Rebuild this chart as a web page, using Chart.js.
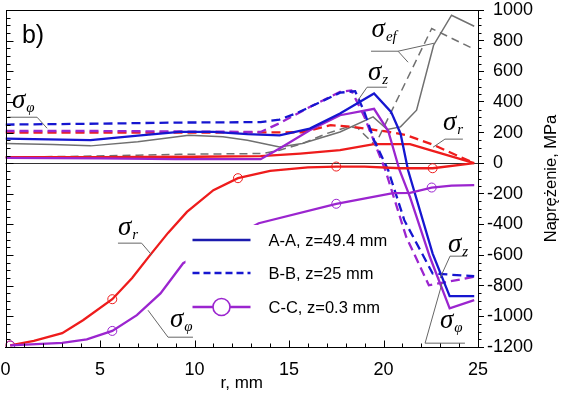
<!DOCTYPE html>
<html>
<head>
<meta charset="utf-8">
<script src="https://cdn.jsdelivr.net/npm/chart.js@4.4.1/dist/chart.umd.min.js"></script>
<style>
  html, body { margin: 0; padding: 0; background: #fff; }
  canvas { display: block; }
</style>
</head>
<body>
<canvas id="stressChart" width="561" height="394"></canvas>
<script>
// radius r [mm] and stress [MPa]
// sigma_z
const rZA = [0, 4.5, 7, 9.2, 11, 12.8, 14.5, 16.1, 17.7, 19.5, 20.4, 20.9, 21.3, 22.6, 23.5, 24.8];
const sZA = [160, 150, 180, 205, 205, 190, 182, 226, 324, 455, 335, 194, -46, -590, -868, -868];
const rZB = [0, 5, 9, 13.5, 14.5, 15.4, 16.5, 17.7, 18.5, 19.0, 19.5, 20.25, 21.1, 22.6, 24.8];
const sZB = [252, 258, 265, 268, 285, 326, 390, 460, 470, 330, 150, -46, -372, -720, -738];
// sigma_phi
const rPA = [0, 5, 9, 13.5, 14.5, 16.1, 17.7, 19.5, 20.25, 20.85, 21.4, 22.45, 23.5, 24.8];
const sPA = [35, 32, 27, 26, 96, 215, 313, 355, 210, -46, -220, -611, -948, -894];
const rPB = [0, 5, 9, 13.5, 14.5, 16.1, 17.7, 18.3, 19.0, 19.6, 20.1, 21.2, 22.4, 24.8];
const sPB = [210, 210, 207, 204, 261, 367, 465, 475, 300, 110, -46, -481, -797, -742];
const rPC = [0.25, 3.0, 4.3, 5.65, 6.95, 8.2, 9.4, 13.4, 17.5, 20.5, 21.4, 22.55, 23.6, 24.8];
const sPC = [-1190, -1173, -1150, -1095, -992, -850, -653, -392, -265, -196, -194, -159, -146, -143];
// sigma_r
const rRA = [0, 5, 10, 13.5, 15.6, 17.7, 19.5, 21.4, 22.6, 24.8];
const sRA = [40, 40, 42, 46, 63, 85, 125, 124, 80, 0];
const rRB = [0, 5, 10, 15.7, 17.2, 18.4, 20.3, 21.2, 22.6, 24.8];
const sRB = [200, 200, 200, 202, 248, 237, 204, 183, 122, 0];
const rRC = [0.25, 1.5, 3.0, 4.1, 5.65, 6.7, 7.65, 8.6, 9.6, 11.0, 12.3, 14.0, 16.0, 17.5, 19.0, 20.9, 22.6, 24.8];
const sRC = [-1190, -1160, -1110, -1025, -888, -750, -600, -455, -318, -176, -98, -50, -28, -22, -22, -33, -33, 0];
// sigma_ef
const rEA = [0, 2.5, 4.5, 7, 9.7, 11.5, 12.8, 14.5, 15.7, 17.7, 19.45, 20.2, 20.9, 21.75, 22.65, 23.6, 24.8];
const sEA = [128, 122, 113, 140, 183, 172, 150, 105, 128, 204, 302, 220, 237, 346, 770, 966, 894];
const rEB = [0, 4, 7, 9.2, 13.6, 14.5, 15.7, 17, 18.2, 18.65, 19.55, 22.55, 24.8];
const sEB = [40, 45, 52, 58, 63, 85, 128, 194, 240, 228, 117, 879, 744];

// where the C-C curves carry a circle
const markRC = [0.25, 5.65, 12.3, 17.5, 22.6];
const markPC = [0.25, 5.65, 17.5, 22.55];

const legendRows = ['A-A, z=49.4 mm', 'B-B, z=25 mm', 'C-C, z=0.3 mm'];
const xTicks = [0, 5, 10, 15, 20, 25];

const RED = '#ee1c1c', BLUE = '#1616d0', PURPLE = '#9b25cf', GRAY = '#707070';
const SANS = '"Liberation Sans", Arial, sans-serif';
const SERIF = '"Liberation Serif", "Times New Roman", serif';

const pts = (r, s) => r.map((v, i) => ({ x: v, y: s[i] }));

function line(r, s, color, extra) {
  return Object.assign({
    data: pts(r, s),
    borderColor: color,
    borderWidth: 2.3,
    pointRadius: 0,
    tension: 0,
    fill: false
  }, extra || {});
}

function circles(color, marks) {
  return {
    pointRadius: ctx => (ctx.raw && marks.indexOf(ctx.raw.x) >= 0) ? 4.5 : 0,
    pointBorderColor: color,
    pointBackgroundColor: 'rgba(0,0,0,0)',
    pointBorderWidth: 1
  };
}

// sigma labels with leader lines, placed in data units
const notes = [
  { sub: 'φ', at: [0.34, 359], lead: [[0.13, 300], [1.67, 300], [2.2, 228]] },
  { sub: 'ef', at: [19.37, 822], lead: [[19.34, 731], [20.77, 731], [21.3, 659]], lead2: [[20.77, 731], [22.67, 783]] },
  { sub: 'z', at: [19.18, 542], lead: [[20.18, 496], [19.13, 496], [18.65, 411]] },
  { sub: 'r', at: [23.15, 215], lead: [[24.2, 157], [23.25, 157], [22.62, 104]] },
  { sub: 'r', at: [5.95, -470], lead: [[5.95, -522], [7.2, -522], [7.74, -600]] },
  { sub: 'φ', at: [8.7, -1070], lead: [[9.92, -1136], [8.6, -1136], [7.54, -960]] },
  { sub: 'z', at: [23.41, -581], lead: [[24.42, -607], [23.52, -607], [22.99, -751]] },
  { sub: 'φ', at: [22.99, -1077], lead: [[24.31, -1175], [22.2, -1175], [23.1, -783]] }
];

const decor = {
  id: 'decor',
  afterDraw(chart) {
    const { ctx, chartArea: a, scales: { x, y } } = chart;
    const X = v => x.getPixelForValue(v), Y = v => y.getPixelForValue(v);
    ctx.save();

    // legend
    const lx = a.left + 180, ly = a.top + 215;
    ctx.fillStyle = '#fff';
    ctx.fillRect(lx, ly, 207, 97);
    const rowY = [ly + 15, ly + 48, ly + 82];
    const styles = [
      { c: '#1b1bae', dash: [] },
      { c: BLUE, dash: [7, 4] },
      { c: PURPLE, dash: [], circ: true }
    ];
    styles.forEach((st, i) => {
      ctx.strokeStyle = st.c; ctx.lineWidth = 2.4; ctx.setLineDash(st.dash);
      ctx.beginPath(); ctx.moveTo(lx + 7, rowY[i]); ctx.lineTo(lx + 65, rowY[i]); ctx.stroke();
      ctx.setLineDash([]);
      if (st.circ) {
        ctx.lineWidth = 1.6;
        ctx.fillStyle = '#fff';
        ctx.beginPath(); ctx.arc(lx + 36, rowY[i], 8.5, 0, Math.PI * 2); ctx.fill(); ctx.stroke();
      }
      ctx.fillStyle = '#000';
      ctx.font = '16.5px ' + SANS;
      ctx.textBaseline = 'middle';
      ctx.textAlign = 'left';
      ctx.fillText(legendRows[i], lx + 83, rowY[i] + 1);
    });

    // "b)"
    ctx.fillStyle = '#000';
    ctx.textBaseline = 'alphabetic';
    ctx.font = '25px ' + SANS;
    ctx.fillText('b)', X(0.87), Y(783));

    // sigma labels
    ctx.strokeStyle = '#666'; ctx.lineWidth = 1;
    notes.forEach(n => {
      [n.lead, n.lead2].forEach(l => {
        if (!l) return;
        ctx.beginPath();
        l.forEach((p, i) => i ? ctx.lineTo(X(p[0]), Y(p[1])) : ctx.moveTo(X(p[0]), Y(p[1])));
        ctx.stroke();
      });
      const px = X(n.at[0]), py = Y(n.at[1]);
      ctx.fillStyle = '#000';
      ctx.font = 'italic 27px ' + SERIF;
      ctx.fillText('σ', px, py);
      const w = ctx.measureText('σ').width;
      ctx.font = 'italic 15px ' + SERIF;
      ctx.fillText(n.sub, px + w + 1, py + 4);
    });

    // right tick labels: digits aligned, minus sign hanging to the left
    ctx.font = '18px ' + SANS;
    ctx.textBaseline = 'middle';
    ctx.fillStyle = '#000';
    const x0 = a.right + 15;
    y.ticks.forEach(t => {
      const v = t.value, py = Y(v);
      ctx.textAlign = 'left';
      ctx.fillText(String(Math.abs(v)), x0, py);
      if (v < 0) { ctx.textAlign = 'right'; ctx.fillText('-', x0, py); }
    });

    // frame and inner ticks
    ctx.strokeStyle = '#000'; ctx.lineWidth = 1;
    const L = Math.round(a.left) + 0.5, R = Math.round(a.right) + 0.5;
    const T = Math.round(a.top) + 0.5, B = Math.round(a.bottom) + 0.5;
    ctx.strokeRect(L, T, R - L, B - T);
    ctx.beginPath();
    for (let r = 0; r <= 25; r += 1) {
      const px = Math.round(X(r)) + 0.5, len = r % 5 === 0 ? 7 : 4;
      ctx.moveTo(px, B); ctx.lineTo(px, B - len);
    }
    for (let v = -1200; v <= 1000; v += 50) {
      const py = Math.round(Y(v)) + 0.5, major = v % 200 === 0;
      ctx.moveTo(L, py); ctx.lineTo(L + (major ? 7 : 4), py);
      if (!major) { ctx.moveTo(R, py); ctx.lineTo(R + 3, py); }
    }
    ctx.stroke();

    // right axis title, reading upwards
    ctx.translate(551, (a.top + a.bottom) / 2);
    ctx.rotate(-Math.PI / 2);
    ctx.textAlign = 'center';
    ctx.textBaseline = 'middle';
    ctx.font = '16.5px ' + SANS;
    ctx.fillText('Naprężenie, MPa', 0, 0);
    ctx.restore();
  }
};

const data = {
  datasets: [
    line(rPC, sPC, PURPLE, circles(PURPLE, markPC)),
    line(rRC, sRC, RED, circles(RED, markRC)),
    line(rZA, sZA, BLUE),
    line(rZB, sZB, BLUE, { borderDash: [9, 5] }),
    line(rPA, sPA, PURPLE),
    line(rPB, sPB, PURPLE, { borderDash: [9, 5] }),
    line(rRA, sRA, RED),
    line(rRB, sRB, RED, { borderDash: [9, 5] }),
    line(rEA, sEA, GRAY, { borderWidth: 1.5 }),
    line(rEB, sEB, GRAY, { borderWidth: 1.5, borderDash: [8, 5] })
  ]
};

new Chart(document.getElementById('stressChart'), {
  type: 'line',
  data: data,
  options: {
    responsive: false,
    animation: false,
    devicePixelRatio: 1,
    layout: { padding: { left: 5, top: 10, right: 0, bottom: 0 } },
    plugins: { legend: { display: false }, tooltip: { enabled: false } },
    scales: {
      x: {
        type: 'linear',
        min: 0, max: 25,
        afterBuildTicks: s => { s.ticks = xTicks.map(v => ({ value: v })); },
        afterFit: s => { s.height = 47; s.paddingLeft = 0; s.paddingRight = 0; },
        grid: { display: false, drawTicks: false },
        border: { display: true, color: '#000' },
        ticks: { color: '#000', padding: 12, font: { family: SANS, size: 18 }, maxRotation: 0 },
        title: { display: true, text: 'r, mm', color: '#000', font: { family: SANS, size: 17 }, padding: 0 }
      },
      y: {
        type: 'linear',
        position: 'right',
        min: -1200, max: 1000,
        afterFit: s => { s.width = 83; s.paddingTop = 0; s.paddingBottom = 0; },
        grid: {
          color: c => c.tick && c.tick.value === 0 ? '#333' : 'rgba(0,0,0,0)',
          tickColor: '#000',
          tickLength: 6
        },
        border: { display: true, color: '#000' },
        ticks: {
          stepSize: 200,
          color: 'rgba(0,0,0,0)',
          padding: 8,
          font: { family: SANS, size: 18 },
          callback: v => String(v)
        }
      }
    }
  },
  plugins: [decor]
});
</script>
</body>
</html>
